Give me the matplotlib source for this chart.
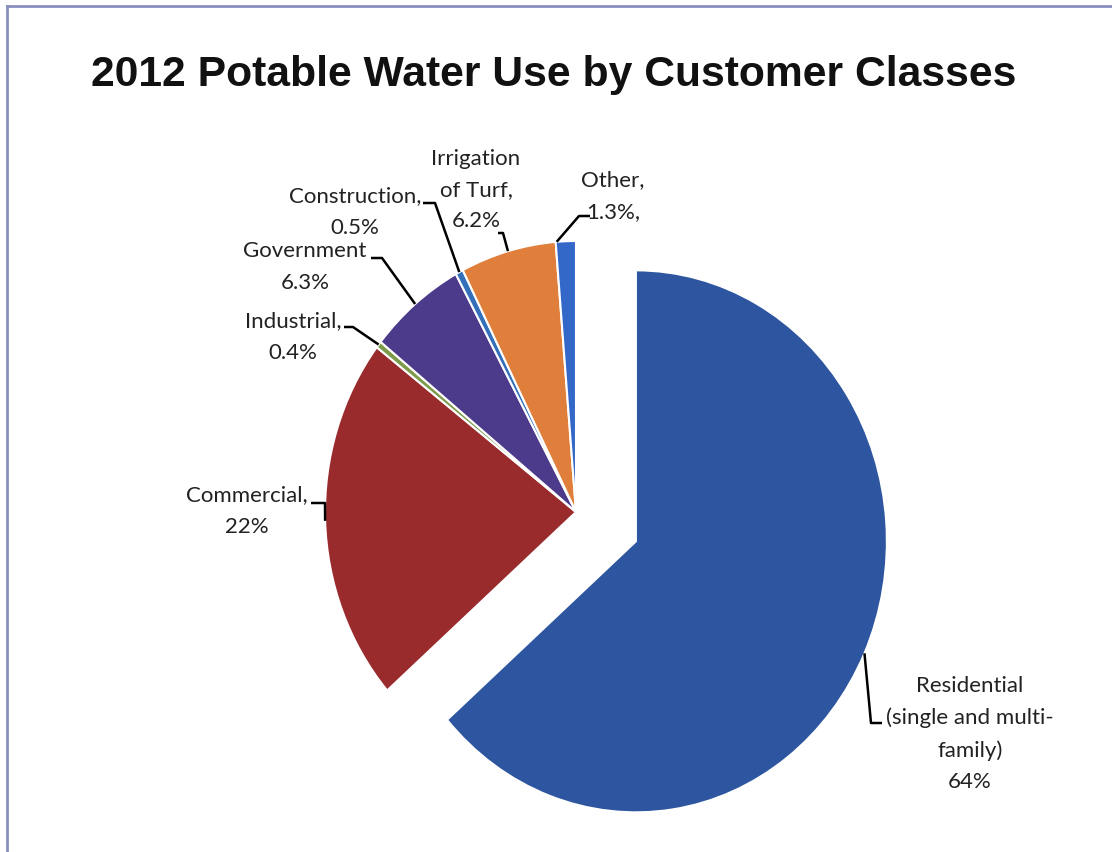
import numpy as np
from matplotlib import pyplot as plt
from matplotlib.lines import Line2D

# data
classes = ["Residential", "Commercial", "Industrial", "Government",
           "Construction", "Irrigation of Turf", "Other"]
shares = [64, 22, 0.4, 6.3, 0.5, 6.2, 1.3]
labels = ["Residential\n(single and multi-\nfamily)\n64%",
          "Commercial,\n22%",
          "Industrial,\n0.4%",
          "Government\n6.3%",
          "Construction,\n0.5%",
          "Irrigation\nof Turf,\n6.2%",
          "Other,\n1.3%,"]
colors = ["#2E56A0", "#9A2B2D", "#7C9A4A", "#4C3B8A",
          "#3470BA", "#E07F3B", "#3468C8"]
explode = [0.262, 0, 0, 0, 0, 0, 0]

W, H = 1112, 852
CX, CY = 576, 512        # pie centre, pixels from top-left
RX, RY = 251, 271        # scanned image is a bit taller than wide


def to_data(px, py):
    return (px - CX) / RX, (CY - py) / RY


# label layout, pixels: text centre, elbow, end of leader
label_pos = [(970, 734), (247, 511), (293, 337), (305, 267),
             (355, 212), (476, 190), (613, 196)]
elbows = [(871, 723), (325, 503), (353, 327), (382, 258),
          (435, 203), (503, 233), (579, 216)]
ends = [(882, 723), (311, 503), (344, 327), (371, 258),
        (423, 203), (498, 233), (590, 216)]
edge_frac = [0.5, 0.5, 0.5, 0.5, 0.5, 0.5, 0.95]

fig = plt.figure(figsize=(W / 100, H / 100), dpi=100)
ax = fig.add_axes([0, 0, 1, 1])

wedges, _ = ax.pie(shares, colors=colors, explode=explode, startangle=90,
                   counterclock=False,
                   wedgeprops=dict(edgecolor="white", linewidth=1.5))
ax.set_aspect("auto")
ax.set_xlim(-CX / RX, (W - CX) / RX)
ax.set_ylim(-(H - CY) / RY, CY / RY)
ax.axis("off")

for w, lab, pos, elb, end, fr in zip(wedges, labels, label_pos, elbows, ends, edge_frac):
    ang = np.deg2rad(w.theta1 + fr * (w.theta2 - w.theta1))
    cx, cy = w.center
    anchor = (cx + np.cos(ang), cy + np.sin(ang))
    e = to_data(*elb)
    f = to_data(*end)
    ax.plot([anchor[0], e[0], f[0]], [anchor[1], e[1], f[1]],
            color="black", lw=1.8, solid_capstyle="butt")
    tx, ty = to_data(*pos)
    ax.text(tx, ty, lab, ha="center", va="center", fontsize=16,
            family="Lato", color="#222222", linespacing=1.7)

fig.text(554 / W, 1 - 75 / H, "2012 Potable Water Use by Customer Classes",
         ha="center", va="center", fontsize=30.7, fontweight="bold",
         family="Liberation Sans", color="#111111")

# frame of the scanned chart
fig.add_artist(Line2D([7 / W, 7 / W], [0, 1 - 6 / H], transform=fig.transFigure,
                      color="#8A8FBF", lw=2))
fig.add_artist(Line2D([7 / W, 1], [1 - 6 / H, 1 - 6 / H], transform=fig.transFigure,
                      color="#8A8FBF", lw=2))

fig.savefig("out.png", dpi=100)
